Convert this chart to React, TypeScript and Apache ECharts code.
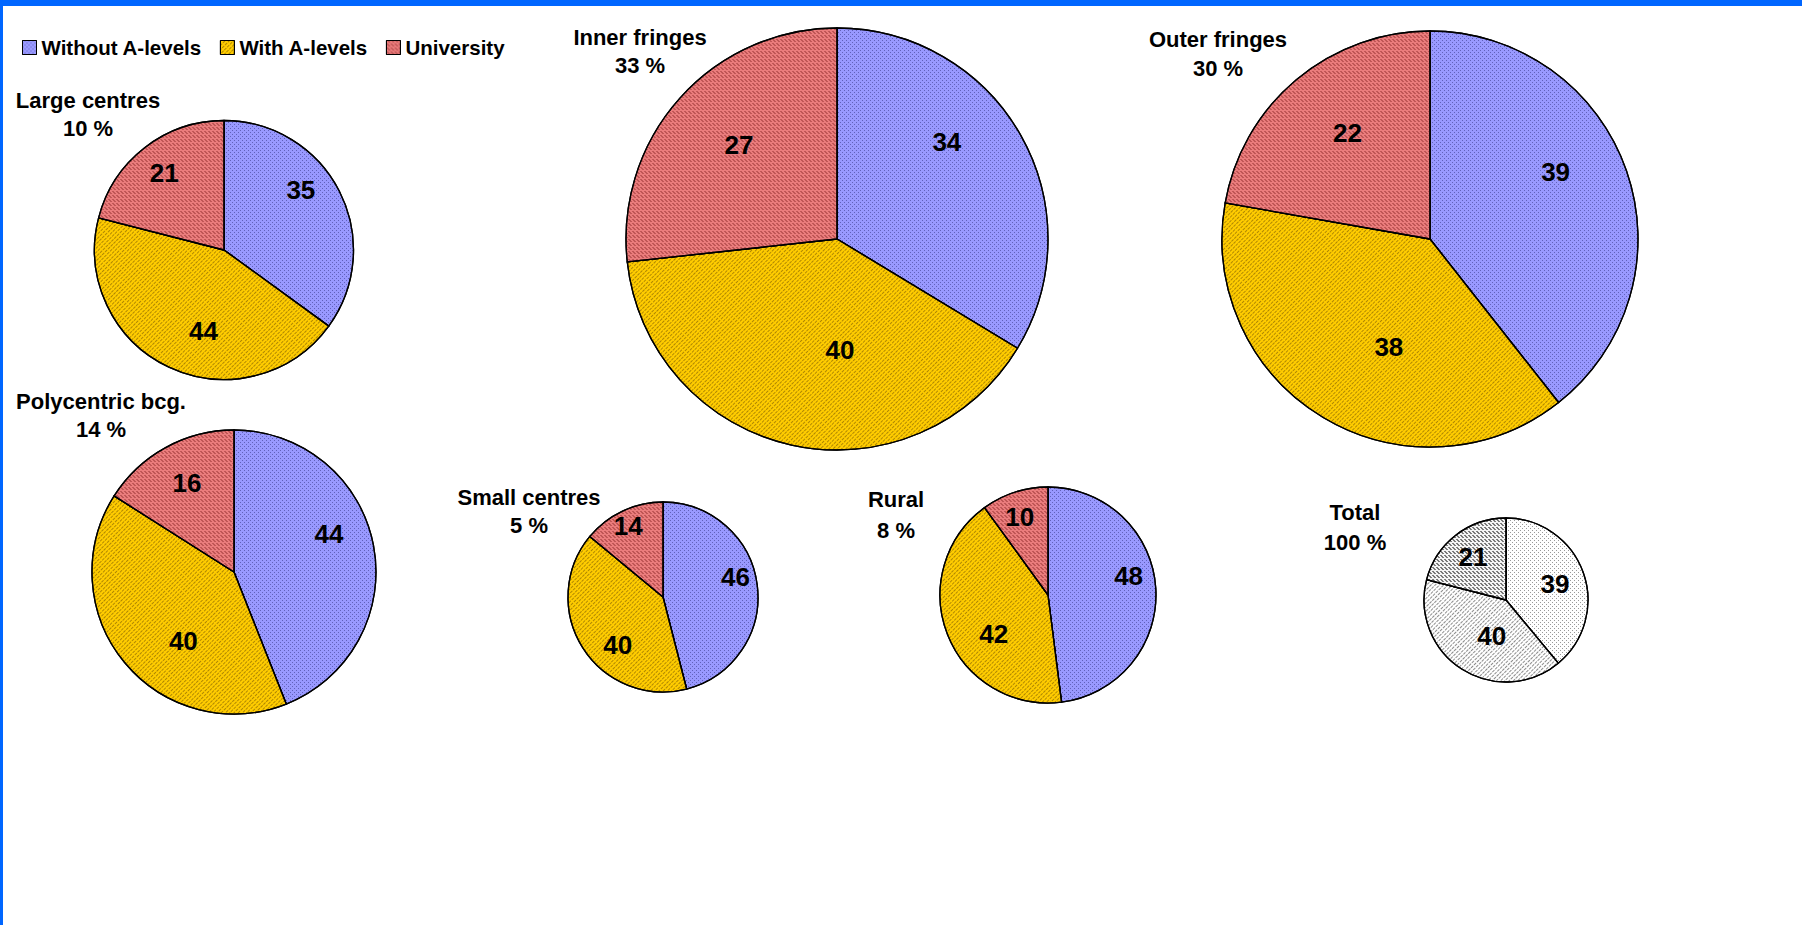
import { useEffect, useRef } from 'react';
import * as echarts from 'echarts';

// Education level of residents by settlement type (shares in %)
const categories = ['Without A-levels', 'With A-levels', 'University'];
const regions = ['Large centres', 'Inner fringes', 'Outer fringes', 'Polycentric bcg.', 'Small centres', 'Rural', 'Total'];
const regionShares = [10, 33, 30, 14, 5, 8, 100];
const withoutALevels = [35, 34, 39, 44, 46, 48, 39];
const withALevels = [44, 40, 38, 40, 40, 42, 40];
const university = [21, 27, 22, 16, 14, 10, 21];

const valueRows = [withoutALevels, withALevels, university];

// Placement of each pie: centre, radius, heading position,
// and for each slice the label distance (fraction of radius) and angular nudge (degrees)
const layout = [
  { cx: 224, cy: 250, r: 129.5, tx: 88, ty: 100, sy: 128, frac: [0.73, 0.62, 0.73], turn: [11, 11, 0], grey: false },
  { cx: 837, cy: 239, r: 211, tx: 640, ty: 37, sy: 65, frac: [0.68, 0.51, 0.63], turn: [12, 14, -2], grey: false },
  { cx: 1430, cy: 239, r: 208, tx: 1218, ty: 39, sy: 68, frac: [0.67, 0.54, 0.63], turn: [9, 10, -2], grey: false },
  { cx: 234, cy: 572, r: 142, tx: 101, ty: 401, sy: 429, frac: [0.7, 0.58, 0.69], turn: [11, 14, -1], grey: false },
  { cx: 663, cy: 597, r: 95, tx: 529, ty: 497, sy: 525, frac: [0.76, 0.66, 0.8], turn: [8, 14, 1], grey: false },
  { cx: 1048, cy: 595, r: 108, tx: 896, ty: 499, sy: 530, frac: [0.74, 0.59, 0.74], turn: [10, 14, 2], grey: false },
  { cx: 1506, cy: 600, r: 82, tx: 1355, ty: 512, sy: 542, frac: [0.59, 0.44, 0.62], turn: [-2, 11, 0], grey: true },
];

const FONT = '"Liberation Sans", Arial, Helvetica, sans-serif';
const BLUE_FRAME = '#0066ff';

const colourFills = ['#9999ff', '#ffcc00', '#ea7c7c'];
const colourInk = ['rgba(50,50,130,0.55)', 'rgba(110,80,0,0.55)', 'rgba(140,40,40,0.45)'];
const greyFills = ['#ffffff', '#ffffff', '#f4f4f4'];
const greyInk = ['rgba(0,0,0,0.4)', 'rgba(0,0,0,0.45)', 'rgba(0,0,0,0.5)'];

// Hatch patterns: dotted grid, diagonal weave, small zigzag
const dotDecal = (ink: string) => ({
  symbol: 'rect',
  symbolSize: 1,
  color: ink,
  dashArrayX: [[1, 3], [0, 2, 1, 1]],
  dashArrayY: [1, 1],
  rotation: 0,
});
const weaveDecal = (ink: string) => ({
  symbol: 'rect',
  symbolSize: 1,
  color: ink,
  dashArrayX: [[3, 1]],
  dashArrayY: [1, 2],
  rotation: -Math.PI / 4,
});
const zigzagDecal = (ink: string) => ({
  symbol: 'rect',
  symbolSize: 1,
  color: ink,
  dashArrayX: [[2, 2], [0, 1, 2, 1], [0, 2, 2, 0], [0, 4]],
  dashArrayY: [1, 0],
  rotation: 0,
});
const decals = [dotDecal, weaveDecal, zigzagDecal];

function sliceData(p: number, grey: boolean) {
  return categories.map((name, k) => ({
    name,
    value: valueRows[k][p],
    itemStyle: {
      color: (grey ? greyFills : colourFills)[k],
      decal: decals[k](grey ? greyInk[k] : colourInk[k]),
    },
  }));
}

const labelText = {
  formatter: '{c}',
  fontFamily: FONT,
  fontWeight: 'bold' as const,
  fontSize: 26,
  color: '#000',
};

function mainPie(p: number) {
  const L = layout[p];
  return {
    type: 'pie',
    name: regions[p],
    center: [L.cx, L.cy],
    radius: [0, L.r],
    startAngle: 90,
    clockwise: true,
    avoidLabelOverlap: false,
    itemStyle: { borderColor: '#000', borderWidth: 1.3 },
    label: { show: false },
    labelLine: { show: false },
    emphasis: { disabled: true },
    data: sliceData(p, L.grey),
  };
}

// Transparent pie carrying the value label of slice k; its inner label
// position lands at the wanted fraction of the visible radius
function labelPie(p: number, k: number) {
  const L = layout[p];
  return {
    type: 'pie',
    name: regions[p] + ' / ' + categories[k],
    center: [L.cx, L.cy],
    radius: [0, L.r * 2 * L.frac[k]],
    startAngle: 90 + L.turn[k],
    clockwise: true,
    silent: true,
    avoidLabelOverlap: false,
    z: 5,
    itemStyle: { color: 'rgba(0,0,0,0)', borderWidth: 0 },
    label: { show: true, position: 'inside', ...labelText },
    labelLine: { show: false },
    emphasis: { disabled: true },
    data: categories.map((name, j) => ({
      name,
      value: valueRows[j][p],
      itemStyle: { color: 'rgba(0,0,0,0)', borderWidth: 0 },
      label: { show: j === k },
    })),
  };
}

function buildOption() {
  const series: any[] = [];
  regions.forEach((_, p) => series.push(mainPie(p)));
  regions.forEach((_, p) => categories.forEach((__, k) => series.push(labelPie(p, k))));

  const headingStyle = { fontFamily: FONT, fontWeight: 'bold', fontSize: 22, fill: '#000', align: 'center', verticalAlign: 'middle' };
  const headings: any[] = [];
  regions.forEach((name, p) => {
    const L = layout[p];
    headings.push({ type: 'text', x: L.tx, y: L.ty, silent: true, style: { ...headingStyle, text: name } });
    headings.push({ type: 'text', x: L.tx, y: L.sy, silent: true, style: { ...headingStyle, text: regionShares[p] + ' %' } });
  });

  return {
    animation: false,
    backgroundColor: '#ffffff',
    legend: {
      data: categories,
      left: 22,
      top: 37,
      padding: 0,
      orient: 'horizontal',
      icon: 'rect',
      itemWidth: 14,
      itemHeight: 14,
      itemGap: 18,
      selectedMode: false,
      itemStyle: { borderColor: '#000', borderWidth: 1 },
      textStyle: { fontFamily: FONT, fontWeight: 'bold', fontSize: 20.5, lineHeight: 20, color: '#000' },
    },
    graphic: [
      { type: 'rect', silent: true, shape: { x: 0, y: 0, width: 1802, height: 6 }, style: { fill: BLUE_FRAME } },
      { type: 'rect', silent: true, shape: { x: 0, y: 0, width: 3, height: 925 }, style: { fill: BLUE_FRAME } },
      ...headings,
    ],
    series,
  };
}

export default function App() {
  const ref = useRef<HTMLDivElement>(null);

  useEffect(() => {
    document.body.style.margin = '0';
    if (!ref.current) return;
    const chart = echarts.init(ref.current, undefined, { renderer: 'svg' });
    chart.setOption(buildOption() as any);
    return () => chart.dispose();
  }, []);

  return (
    <div style={{ position: 'fixed', left: 0, top: 0, width: 1802, height: 925, background: '#fff' }}>
      <div ref={ref} style={{ width: 1802, height: 925 }} />
    </div>
  );
}
